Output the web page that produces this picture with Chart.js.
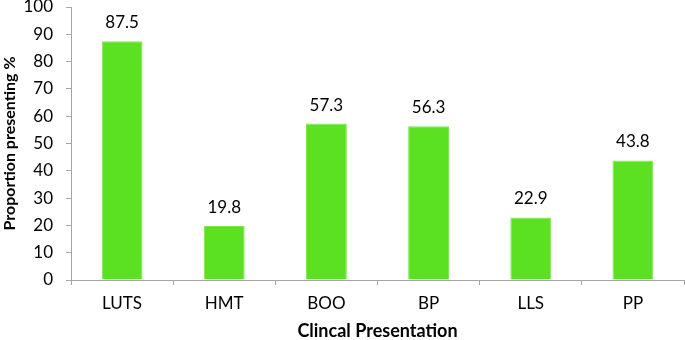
<!DOCTYPE html>
<html>
<head>
<meta charset="utf-8">
<script src="https://cdn.jsdelivr.net/npm/chart.js@4/dist/chart.umd.min.js"></script>
<style>
  html, body { margin: 0; padding: 0; background: #fff; }
  #wrap { width: 685px; height: 340px; }
</style>
</head>
<body>
<div id="wrap"><canvas id="presChart"></canvas></div>
<script>
const categories = ['LUTS', 'HMT', 'BOO', 'BP', 'LLS', 'PP'];
const proportions = [87.5, 19.8, 57.3, 56.3, 22.9, 43.8];
const yTicks = [0, 10, 20, 30, 40, 50, 60, 70, 80, 90, 100];

const FONT = 'Lato, "Open Sans", sans-serif';
const ctx = document.getElementById('presChart').getContext('2d');

// value labels above each bar
const barLabels = {
	id: 'barLabels',
	afterDatasetsDraw(chart) {
		const c = chart.ctx;
		const meta = chart.getDatasetMeta(0);
		c.save();
		c.font = '17px ' + FONT;
		c.fillStyle = '#000';
		c.textAlign = 'center';
		c.textBaseline = 'alphabetic';
		meta.data.forEach((bar, i) => {
			c.fillText(proportions[i].toFixed(1), bar.x, bar.y - 13);
		});
		c.restore();
	}
};

new Chart(ctx, {
	type: 'bar',
	data: {
		labels: categories,
		datasets: [{
			data: proportions,
			backgroundColor: '#5ce022',
			borderColor: '#80e853',
			borderWidth: 1,
			barPercentage: 0.4,
			categoryPercentage: 1
		}]
	},
	options: {
		responsive: true,
		maintainAspectRatio: false,
		animation: false,
		layout: { padding: { top: 7, right: 1, left: 0, bottom: 0 } },
		plugins: {
			legend: { display: false },
			tooltip: { enabled: false }
		},
		scales: {
			x: {
				afterFit(scale) {
					scale.height = 60;
					scale.paddingLeft = 0;
					scale.paddingRight = 0;
				},
				grid: {
					offset: true,
					drawOnChartArea: false,
					color: '#a6a6a6',
					tickLength: 5
				},
				border: { color: '#a6a6a6' },
				ticks: {
					color: '#000',
					font: { family: FONT, size: 17 },
					padding: 8
				},
				title: {
					display: true,
					text: 'Clincal Presentation',
					color: '#000',
					font: { family: FONT, size: 18, weight: 'bold', lineHeight: 1 },
					padding: { top: 0, bottom: 0 }
				}
			},
			y: {
				min: 0,
				max: 100,
				afterBuildTicks(axis) {
					axis.ticks = yTicks.map(v => ({ value: v }));
				},
				afterFit(scale) {
					scale.width = 71;
					scale.paddingTop = 0;
					scale.paddingBottom = 0;
				},
				grid: {
					drawOnChartArea: false,
					color: '#a6a6a6',
					tickLength: 5
				},
				border: { color: '#a6a6a6' },
				ticks: {
					color: '#000',
					font: { family: FONT, size: 17 },
					padding: 13
				},
				title: {
					display: true,
					text: 'Proportion presenting %',
					color: '#000',
					font: { family: FONT, size: 16, weight: 'bold' },
					padding: { top: 0, bottom: 0 }
				}
			}
		}
	},
	plugins: [barLabels]
});
</script>
</body>
</html>
